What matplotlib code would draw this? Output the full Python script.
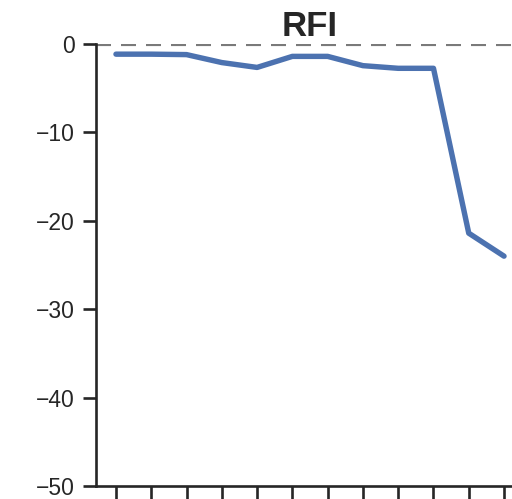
import matplotlib
matplotlib.use("Agg")
import matplotlib.pyplot as plt
import numpy as np

# RFI change per step
steps = list(range(12))
rfi_values = [-1.15, -1.15, -1.2, -2.1, -2.65, -1.4, -1.4, -2.45, -2.75, -2.75, -21.4, -24.0]
y_ticks = [0, -10, -20, -30, -40, -50]
title = "RFI"

plt.rcParams["font.family"] = ["Liberation Sans", "DejaVu Sans"]

fig = plt.figure(figsize=(5.12, 4.99), dpi=100)
ax = fig.add_axes([96 / 512, 13 / 499, 428 / 512, 442 / 499])

ink = "#262626"
ax.axhline(0, color="#7a7a7a", lw=3.0, dashes=(3.6, 2.4), zorder=1)
ax.plot(steps, rfi_values, color="#4C72B0", lw=3.9, solid_capstyle="round",
        solid_joinstyle="round", zorder=2)

ax.set_xlim(-0.566, 11.566)
ax.set_ylim(-50, 0)
ax.set_xticks(steps)
ax.set_xticklabels([])
ax.set_yticks(y_ticks)
ax.set_yticklabels([f"{v}".replace("-", "\u2212") for v in y_ticks])

for side in ("top", "right"):
    ax.spines[side].set_visible(False)
for side in ("left", "bottom"):
    ax.spines[side].set_color(ink)
    ax.spines[side].set_linewidth(1.9)

ax.tick_params(axis="both", length=9.5, width=1.9, color=ink, labelcolor=ink,
               labelsize=16.5, pad=6)

ax.set_title(title, fontsize=25, fontweight="bold", color=ink, pad=6)

fig.savefig("out.png", dpi=100)
